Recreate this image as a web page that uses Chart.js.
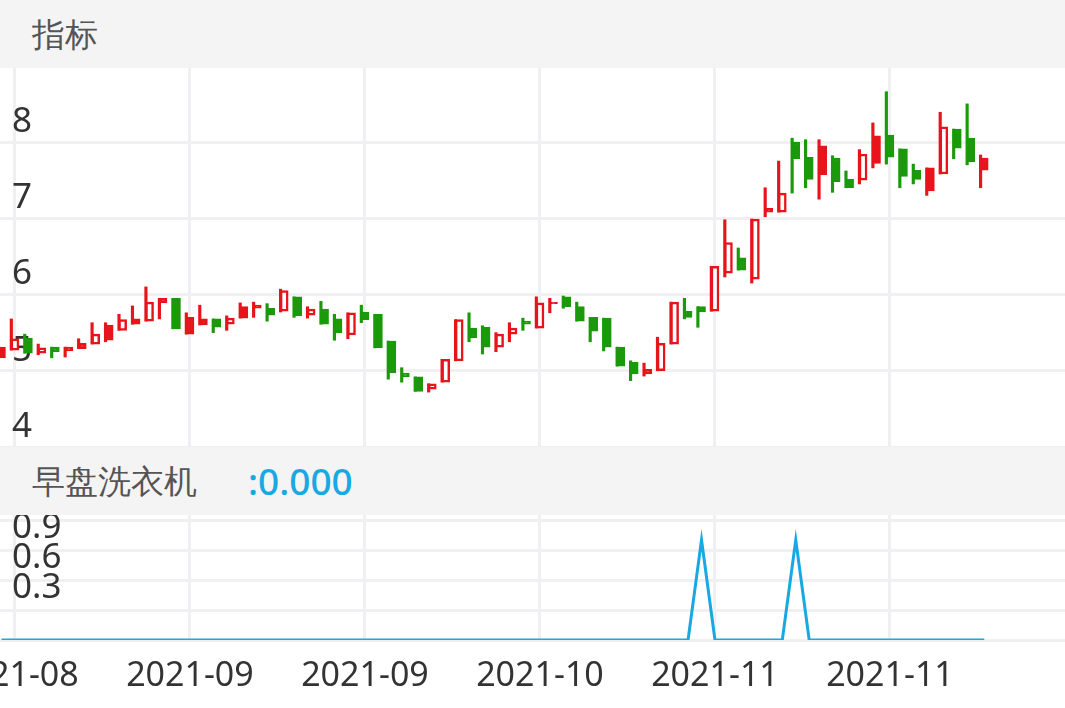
<!DOCTYPE html>
<html>
<head>
<meta charset="utf-8">
<script src="https://cdn.jsdelivr.net/npm/chart.js@4"></script>
<style>
  body { margin: 0; width: 1065px; height: 708px; overflow: hidden; background: #fff; font-family: "Noto Sans", sans-serif; }
  .bar { position: absolute; left: 0; width: 1065px; height: 68px; background: #f4f4f4; color: #555; font-size: 33px; line-height: 68px; }
  .bar span.t { position: absolute; left: 32px; }
  .bar span.v { position: absolute; left: 248px; color: #18a8e2; font-size: 37px; font-weight: 500; }
  canvas { position: absolute; left: 0; }
</style>
</head>
<body>
<div class="bar" style="top:0"><span class="t">指标</span></div>
<canvas id="kline" width="1065" height="379" style="top:68px"></canvas>
<div class="bar" style="top:447px"><span class="t">早盘洗衣机</span><span class="v">:0.000</span></div>
<canvas id="ind" width="1065" height="193" style="top:515px"></canvas>
<script>
const openPx  = [5.31,5.27,5.43,5.23,5.31,5.31,5.36,5.35,5.60,5.53,5.68,5.65,5.95,5.95,5.70,5.68,5.68,5.61,5.84,5.86,5.82,5.78,5.97,5.73,5.81,5.68,5.47,5.77,5.74,5.39,4.97,4.92,4.76,4.85,5.13,5.56,5.57,5.31,5.48,5.65,5.56,5.90,5.97,5.84,5.70,5.69,5.31,5.11,5.02,5.00,5.35,5.78,5.84,5.78,6.28,6.48,6.20,7.13,7.08,8.00,7.80,7.95,7.79,7.51,7.50,8.08,8.09,7.91,7.63,7.66,7.58,8.17,8.05,7.79];
const closePx = [5.17,5.42,5.23,5.30,5.25,5.26,5.29,5.48,5.40,5.67,5.61,5.90,5.89,5.55,5.48,5.60,5.57,5.69,5.69,5.82,5.73,6.05,5.72,5.81,5.61,5.50,5.76,5.67,5.30,4.97,4.92,4.73,4.83,5.15,5.67,5.43,5.31,5.48,5.56,5.61,5.89,5.88,5.84,5.65,5.52,5.31,5.06,4.96,4.96,5.36,5.90,5.70,5.77,6.37,6.68,6.32,6.99,7.08,7.33,7.78,7.51,7.57,7.48,7.40,7.84,7.72,7.80,7.55,7.51,7.36,8.20,7.92,7.74,7.63];
const highPx  = [5.31,5.68,5.48,5.35,5.31,5.31,5.42,5.63,5.63,5.74,5.85,6.10,5.95,5.95,5.76,5.86,5.68,5.72,5.89,5.90,5.88,6.07,5.97,5.84,5.91,5.74,5.76,5.86,5.74,5.39,5.04,4.92,4.83,5.15,5.67,5.76,5.59,5.50,5.63,5.69,5.97,5.95,5.98,5.90,5.70,5.69,5.31,5.13,5.10,5.44,5.90,5.95,5.84,6.37,6.98,6.61,6.99,7.40,7.75,8.05,8.03,8.03,7.82,7.62,7.90,8.25,8.66,7.91,7.71,7.66,8.39,8.17,8.50,7.83];
const lowPx   = [5.17,5.27,5.23,5.21,5.17,5.18,5.29,5.35,5.38,5.53,5.61,5.65,5.68,5.55,5.48,5.60,5.50,5.53,5.69,5.70,5.65,5.77,5.70,5.69,5.61,5.40,5.42,5.63,5.30,4.89,4.85,4.73,4.72,4.85,5.13,5.38,5.22,5.25,5.38,5.53,5.56,5.76,5.82,5.65,5.38,5.26,5.06,4.87,4.93,5.00,5.35,5.68,5.57,5.78,6.23,6.32,6.15,7.02,7.08,7.33,7.40,7.25,7.34,7.40,7.45,7.66,7.71,7.40,7.45,7.30,7.58,7.78,7.70,7.40];
// 1 = red (rising), 0 = green
const rising  = [1,1,0,1,0,1,1,1,1,1,1,1,1,0,1,1,0,1,1,1,0,1,0,1,0,0,1,0,0,0,0,0,1,1,1,0,0,1,1,0,1,1,0,0,0,0,0,0,1,1,1,0,0,1,1,0,1,1,1,0,0,1,0,0,1,1,0,0,0,1,1,0,0,1];
const indicator = [0,0,0,0,0,0,0,0,0,0,0,0,0,0,0,0,0,0,0,0,0,0,0,0,0,0,0,0,0,0,0,0,0,0,0,0,0,0,0,0,0,0,0,0,0,0,0,0,0,0,0,0,1,0,0,0,0,0,0,1,0,0,0,0,0,0,0,0,0,0,0,0,0,0];
const dateTickIdx = [1, 14, 27, 40, 53, 66];
const dateLabels = ['2021-08', '2021-09', '2021-09', '2021-10', '2021-11', '2021-11'];
const priceTicks = [4, 5, 6, 7, 8];
const indTicks = [0, 0.3, 0.6, 0.9, 1.2];

const RED = '#e8141b', GREEN = '#1a9a0a', GRID = '#f0f0f2';
const xMin = -0.11, xMax = 79.0;

function xScale(showLabels) {
  return {
    type: 'linear', min: xMin, max: xMax, offset: false,
    afterBuildTicks: s => { s.ticks = dateTickIdx.map(v => ({ value: v })); },
    afterFit: s => { s.height = showLabels ? 68 : 0; s.paddingLeft = 0; s.paddingRight = 0; },
    grid: { color: GRID, lineWidth: 3, drawTicks: false, offset: false },
    border: { display: false },
    ticks: {
      display: showLabels, padding: 16, color: '#333', maxRotation: 0, autoSkip: false,
      font: { size: 34, family: 'Noto Sans' },
      callback: v => dateLabels[dateTickIdx.indexOf(v)]
    }
  };
}

function yScale(min, max, ticks, offset, fmt) {
  return {
    min, max,
    afterBuildTicks: s => { s.ticks = ticks.map(v => ({ value: v })); },
    afterFit: s => { s.width = 0; s.paddingTop = 0; s.paddingBottom = 0; },
    grid: { color: GRID, lineWidth: 3, drawTicks: false },
    border: { display: false },
    ticks: {
      mirror: true, padding: 12, labelOffset: offset, color: '#333', autoSkip: false,
      font: { size: 35, family: 'Noto Sans' }, callback: fmt
    }
  };
}

const idx = openPx.map((_, i) => i);
const bodyColor = i => rising[i] ? RED : GREEN;
const hollow = i => closePx[i] > openPx[i];

new Chart(document.getElementById('kline'), {
  type: 'bar',
  data: {
    datasets: [
      {
        data: idx.map(i => ({ x: i, y: [Math.min(openPx[i], closePx[i]), Math.max(openPx[i], closePx[i])] })),
        backgroundColor: idx.map(i => hollow(i) ? '#fff' : bodyColor(i)),
        borderColor: idx.map(bodyColor),
        borderWidth: 2.5, borderSkipped: false, barThickness: 8, grouped: false, order: 1
      },
      {
        data: idx.map(i => ({ x: i - 0.27, y: [lowPx[i], highPx[i]] })),
        backgroundColor: idx.map(bodyColor),
        borderWidth: 0, barThickness: 2.5, grouped: false, order: 2
      }
    ]
  },
  options: {
    responsive: false, animation: false,
    layout: { padding: 0 },
    plugins: { legend: { display: false }, tooltip: { enabled: false } },
    scales: {
      x: xScale(false),
      y: yScale(4, 4 + 379 / 76.25, priceTicks, -20, v => String(v))
    }
  }
});

new Chart(document.getElementById('ind'), {
  type: 'line',
  data: {
    datasets: [{
      data: idx.map(i => ({ x: i, y: indicator[i] })),
      borderColor: '#18a8e2', borderWidth: 3, pointRadius: 0, tension: 0
    }]
  },
  options: {
    responsive: false, animation: false,
    layout: { padding: 0 },
    plugins: { legend: { display: false }, tooltip: { enabled: false } },
    scales: {
      x: xScale(true),
      y: yScale(0, 1.25, indTicks, -22, v => (v > 0 && v < 1) ? v.toFixed(1) : '')
    }
  }
});
</script>
</body>
</html>
